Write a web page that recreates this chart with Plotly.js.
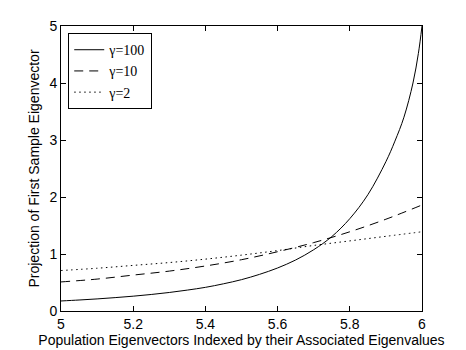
<!DOCTYPE html>
<html>
<head>
<meta charset="utf-8">
<script src="https://cdn.plot.ly/plotly-3.0.1.min.js"></script>
<style>
  html, body { margin: 0; padding: 0; background: #fff; }
  #plot { width: 466px; height: 350px; }
</style>
</head>
<body>
<div id="plot"></div>
<script>
// eigenvector index axis
var xSolid = [5.00, 5.05, 5.10, 5.15, 5.20, 5.25, 5.30, 5.35, 5.40, 5.45, 5.50,
              5.55, 5.60, 5.65, 5.70, 5.75, 5.80, 5.85, 5.90, 5.925, 5.95, 5.975, 5.99, 6.00];
var gamma100 = [0.176, 0.193, 0.212, 0.235, 0.260, 0.290, 0.325, 0.367, 0.415, 0.477, 0.550,
                0.643, 0.755, 0.895, 1.075, 1.305, 1.62, 2.04, 2.62, 2.98, 3.40, 4.00, 4.52, 5.0];

var xGrid = [5.0, 5.1, 5.2, 5.3, 5.4, 5.5, 5.6, 5.7, 5.8, 5.9, 6.0];
var gamma10 = [0.51, 0.56, 0.63, 0.70, 0.79, 0.90, 1.04, 1.20, 1.39, 1.61, 1.86];
var gamma2  = [0.71, 0.75, 0.80, 0.85, 0.91, 0.98, 1.06, 1.15, 1.23, 1.31, 1.39];

var legendNames = ['γ=100', 'γ=10', 'γ=2'];

var data = [
  {x: xSolid, y: gamma100, name: legendNames[0], mode: 'lines',
   line: {color: '#000', width: 1, dash: 'solid', shape: 'spline'}},
  {x: xGrid, y: gamma10, name: legendNames[1], mode: 'lines',
   line: {color: '#000', width: 1, dash: '9px,6px', shape: 'spline'}},
  {x: xGrid, y: gamma2, name: legendNames[2], mode: 'lines',
   line: {color: '#000', width: 1, dash: '1.5px,3.5px', shape: 'spline'}}
];

var axisStyle = {
  showgrid: false, zeroline: false, showline: true, mirror: 'ticks',
  linecolor: '#000', linewidth: 1, ticks: 'inside', ticklen: 5, tickcolor: '#000',
  tickfont: {family: 'Liberation Sans, Arial, sans-serif', size: 14, color: '#000'}
};

var layout = {
  width: 466, height: 350,
  margin: {l: 61, r: 44, t: 26, b: 39},
  paper_bgcolor: '#fff', plot_bgcolor: '#fff',
  showlegend: true,
  legend: {
    x: 0.02, y: 0.975, xanchor: 'left', yanchor: 'top',
    bgcolor: '#fff', bordercolor: '#000', borderwidth: 1,
    font: {family: 'Liberation Serif, Times New Roman, serif', size: 14, color: '#000'},
    tracegroupgap: 0, itemwidth: 30
  },
  xaxis: Object.assign({}, axisStyle, {
    range: [5, 6], tickvals: [5, 5.2, 5.4, 5.6, 5.8, 6], ticktext: ['5', '5.2', '5.4', '5.6', '5.8', '6'],
    title: {text: 'Population Eigenvectors Indexed by their Associated Eigenvalues', standoff: 4,
            font: {family: 'Liberation Sans, Arial, sans-serif', size: 14, color: '#000'}}
  }),
  yaxis: Object.assign({}, axisStyle, {
    range: [0, 5], tickvals: [0, 1, 2, 3, 4, 5],
    title: {text: 'Projection of First Sample Eigenvector', standoff: 6,
            font: {family: 'Liberation Sans, Arial, sans-serif', size: 14, color: '#000'}}
  })
};

Plotly.newPlot('plot', data, layout, {displayModeBar: false, staticPlot: true});
</script>
</body>
</html>
